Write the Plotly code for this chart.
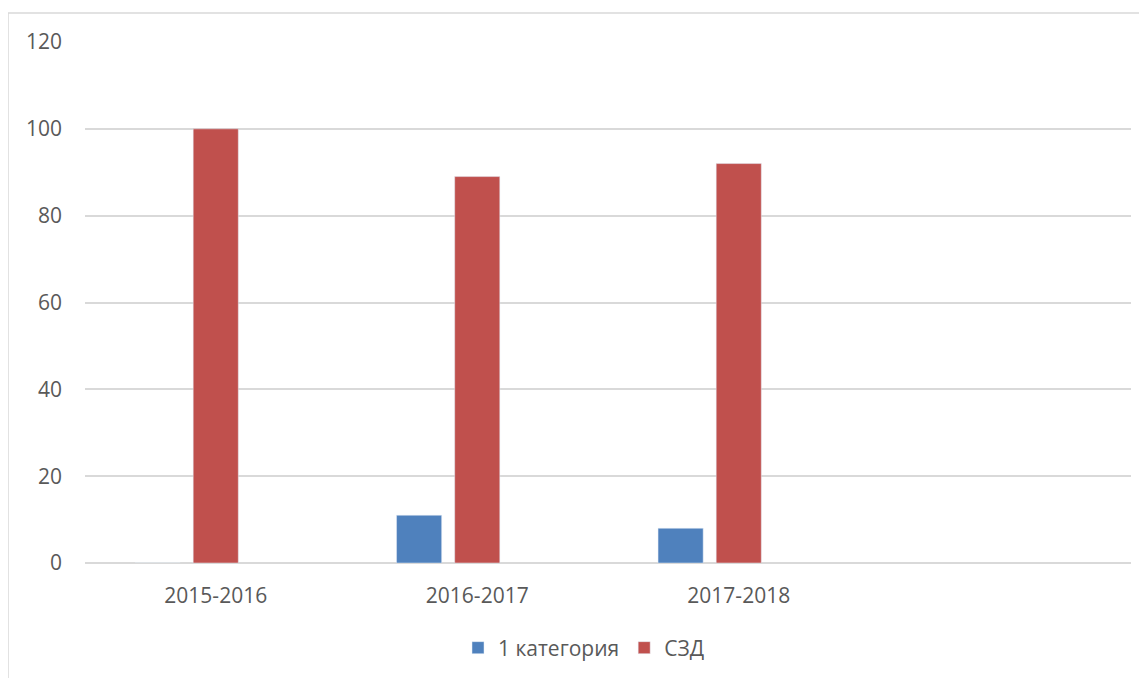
import plotly.graph_objects as go

categories = ["2015-2016", "2016-2017", "2017-2018"]
cat1 = [0, 11, 8]
szd = [100, 89, 92]
third = [None, None, None]
y_ticks = [0, 20, 40, 60, 80, 100, 120]

xpos = list(range(len(categories)))

fig = go.Figure()
fig.add_trace(go.Bar(x=xpos, y=cat1, name="1 категория", marker_color="#4F81BD"))
fig.add_trace(go.Bar(x=xpos, y=szd, name="СЗД", marker_color="#C0504D"))
fig.add_trace(go.Bar(x=xpos, y=third, name="", showlegend=False, marker_color="#9BBB59"))

# page body offsets the figure by 8px; compensate in margins
OFF = 8
W, H = 1147, 678
L, R, T, B = 85 - OFF, 16 + OFF, 42 - OFF, 115 + OFF
pw, ph = W - L - R, H - T - B

def px_x(p):
    return (p - OFF - L) / pw

def px_y(p):
    return (H - B - (p - OFF)) / ph

fig.update_layout(
    width=W, height=H,
    margin=dict(l=L, r=R, t=T, b=B),
    paper_bgcolor="white", plot_bgcolor="white",
    barmode="group", bargap=0.333, bargroupgap=0.224,
    font=dict(family="Open Sans", size=21, color="#595959"),
    showlegend=True,
    legend=dict(orientation="h", x=px_x(584), xanchor="center", y=px_y(648), yanchor="middle",
                font=dict(size=21, color="#595959"), itemwidth=30, traceorder="normal"),
    xaxis=dict(range=[-0.5, 3.5], tickvals=xpos, ticktext=categories,
               showgrid=False, zeroline=False, showline=False, ticks="",
               ticklabelstandoff=18, fixedrange=True),
    yaxis=dict(range=[0, 120], tickvals=y_ticks, showgrid=True, gridcolor="#D9D9D9",
               gridwidth=1.5, zeroline=True, zerolinecolor="#D9D9D9", zerolinewidth=1.5,
               showline=False, ticks="", ticklabelstandoff=22),
    shapes=[dict(type="rect", xref="paper", yref="paper",
                 x0=px_x(8), x1=px_x(1170), y0=px_y(700), y1=px_y(13),
                 line=dict(color="#D9D9D9", width=1.5), layer="below")],
)

fig.write_html("out.html")
